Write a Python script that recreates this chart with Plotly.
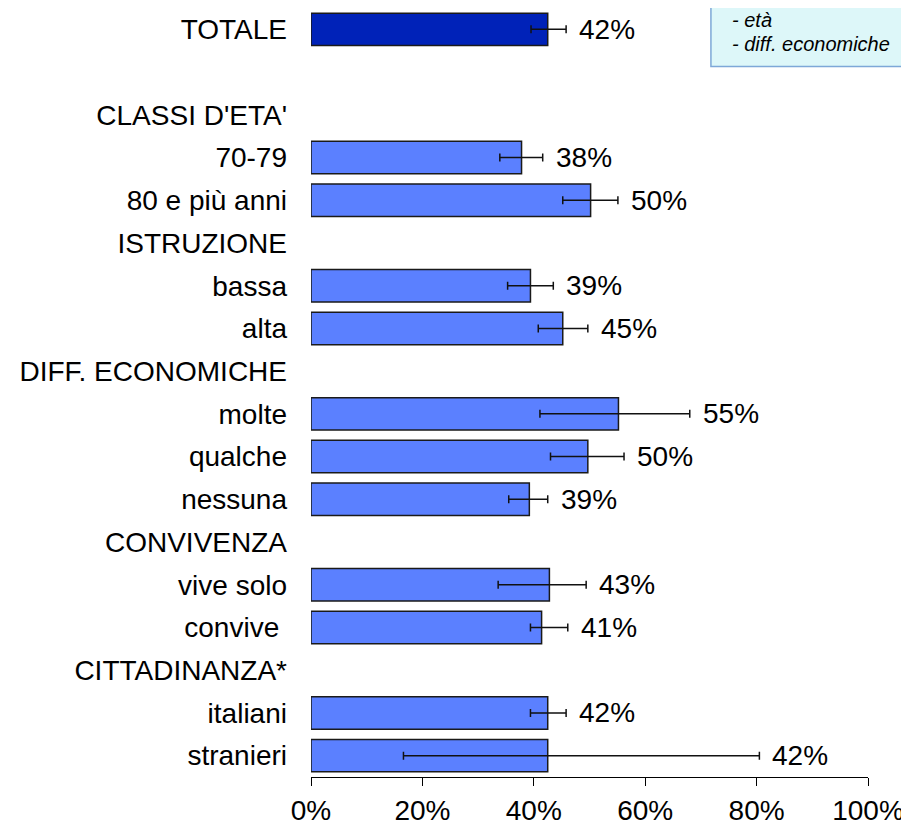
import plotly.graph_objects as go

categories = ["TOTALE", "", "CLASSI D'ETA'", "70-79", "80 e più anni", "ISTRUZIONE",
              "bassa", "alta", "DIFF. ECONOMICHE", "molte", "qualche", "nessuna",
              "CONVIVENZA", "vive solo", "convive\u00a0", "CITTADINANZA*", "italiani", "stranieri"]
values = [42.5, None, None, 37.8, 50.2, None, 39.4, 45.2, None, 55.2, 49.7, 39.2,
          None, 42.8, 41.4, None, 42.5, 42.5]
ci_low = [39.5, None, None, 33.9, 45.2, None, 35.3, 40.8, None, 41.1, 43.0, 35.5,
          None, 33.6, 39.4, None, 39.4, 16.6]
ci_high = [45.8, None, None, 41.6, 55.1, None, 43.5, 49.7, None, 68.0, 56.2, 42.5,
           None, 49.4, 46.1, None, 45.8, 80.5]
value_labels = ["42%", "", "", "38%", "50%", "", "39%", "45%", "", "55%", "50%", "39%",
                "", "43%", "41%", "", "42%", "42%"]
x_ticks = [0, 20, 40, 60, 80, 100]
x_tick_labels = ["0%", "20%", "40%", "60%", "80%", "100%"]
note_lines = ["- età", "- diff. economiche"]

FONT = "Liberation Sans, Arial, sans-serif"
pos = list(range(len(categories)))
bar_idx = [i for i, v in enumerate(values) if v is not None]

colors = ["#0022B8" if categories[i] == "TOTALE" else "#5B80FF" for i in bar_idx]

fig = go.Figure()
fig.add_trace(go.Bar(
    y=[pos[i] for i in bar_idx],
    x=[values[i] for i in bar_idx],
    orientation="h",
    marker=dict(color=colors, line=dict(color="#1a1a1a", width=1.5)),
    error_x=dict(
        type="data", symmetric=False,
        array=[ci_high[i] - values[i] for i in bar_idx],
        arrayminus=[values[i] - ci_low[i] for i in bar_idx],
        color="#111111", thickness=1.5, width=4,
    ),
    width=0.76,
    hoverinfo="skip",
    showlegend=False,
))

for i in bar_idx:
    fig.add_annotation(
        x=ci_high[i], y=pos[i], xref="x", yref="y",
        text=value_labels[i], showarrow=False,
        xanchor="left", yanchor="middle", xshift=11,
        font=dict(family=FONT, size=28, color="#000000"),
    )

# note box (top right, partially cut off)
fig.add_shape(
    type="rect", xref="paper", yref="paper",
    x0=0.718, x1=1.2, y0=0.924, y1=1.2,
    fillcolor="#DDF7F9", line=dict(color="#7EA8D8", width=1.5),
    layer="above",
)
for k, line in enumerate(note_lines):
    fig.add_annotation(
        x=0.752, y=0.984 - 0.031 * k, xref="paper", yref="paper",
        text="<i>" + line + "</i>", showarrow=False,
        xanchor="left", yanchor="middle",
        font=dict(family=FONT, size=20, color="#000000"),
    )

fig.update_layout(
    width=901, height=817,
    margin=dict(l=303, r=41, t=0, b=48),
    paper_bgcolor="white", plot_bgcolor="white",
    bargap=0.24,
    xaxis=dict(
        range=[0, 100], tickvals=x_ticks, ticktext=x_tick_labels,
        showgrid=False, zeroline=False,
        showline=True, linecolor="#000000", linewidth=1.2,
        ticks="outside", ticklen=8, tickcolor="#000000", tickwidth=1.2,
        tickfont=dict(family=FONT, size=28, color="#000000"),
        fixedrange=True,
    ),
    yaxis=dict(
        range=[len(categories) - 0.5, -0.5],
        tickvals=pos, ticktext=categories,
        showgrid=False, zeroline=False, showline=False,
        ticks="", ticklabelstandoff=23,
        tickfont=dict(family=FONT, size=28, color="#000000"),
        fixedrange=True,
    ),
)

fig.write_html("out.html")
